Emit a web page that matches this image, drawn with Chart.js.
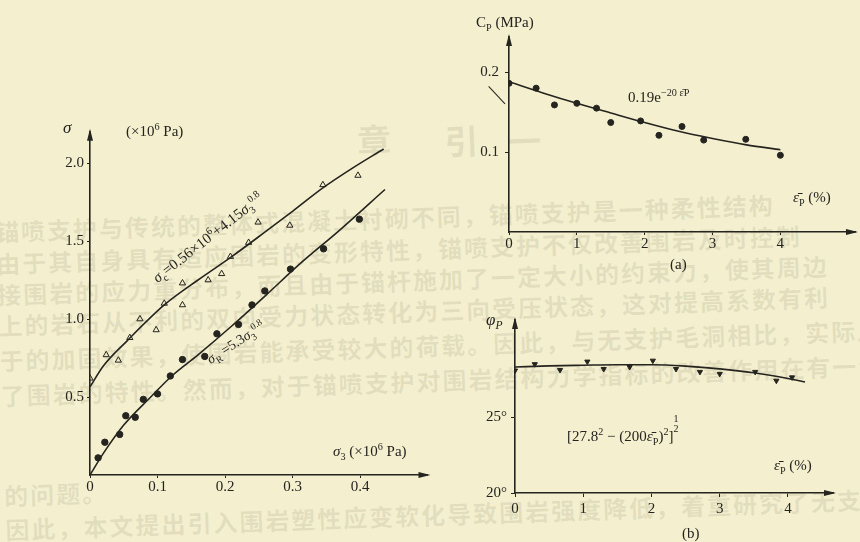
<!DOCTYPE html>
<html>
<head>
<meta charset="utf-8">
<script src="https://cdn.jsdelivr.net/npm/chart.js@4.4.0/dist/chart.umd.min.js"></script>
<style>
body { margin: 0; background: #f3efcf; }
#page { position: relative; width: 860px; height: 542px; overflow: hidden; background: #f3efcf; font-family: 'Liberation Serif', serif; color: #25241f; }
canvas { position: absolute; }
.lbl { position: absolute; font-size: 15px; white-space: nowrap; line-height: 1; }
.lbl sup, .lbl sub { font-size: 68%; line-height: 0; }
.bg { position: absolute; left: 0; top: 0; width: 860px; height: 542px; transform: rotate(-2deg); transform-origin: 215px 370px; color: rgba(100, 96, 70, 0.12); font-family: 'Noto Sans CJK SC'; font-size: 24px; font-weight: bold; }
.bg div { position: absolute; left: 0; white-space: nowrap; letter-spacing: 2px; line-height: 1; }
.frac { display: inline-block; vertical-align: 9px; font-size: 10px; text-align: center; line-height: 10px; }
</style>
</head>
<body>
<div id="page">
  <div class="bg">
    <div style="top:212px">锚喷支护与传统的整体式混凝土衬砌不同，锚喷支护是一种柔性结构</div>
    <div style="top:244px">由于其自身具有适应围岩的变形特性，锚喷支护不仅改善围岩及时控制</div>
    <div style="top:275px">接围岩的应力重分布，而且由于锚杆施加了一定大小的约束力，使其周边</div>
    <div style="top:306px">上的岩石从不利的双向受力状态转化为三向受压状态，这对提高系数有利</div>
    <div style="top:341px">于的加固效果，使围岩能承受较大的荷载。因此，与无支护毛洞相比，实际上就</div>
    <div style="top:376px">了围岩的特性。然而，对于锚喷支护对围岩结构力学指标的改善作用在有一个</div>
    <div style="top:476px">的问题。</div>
    <div style="top:510px">因此，本文提出引入围岩塑性应变软化导致围岩强度降低，着重研究了无支护锚喷</div>
    <div style="top:128px;left:365px;font-size:34px">章</div>
    <div style="top:132px;left:452px;font-size:34px">引</div>
    <div style="top:134px;left:515px;font-size:34px">一</div>
  </div>

  <canvas id="c1" width="400" height="390" style="left:40px;top:110px"></canvas>
  <canvas id="c2" width="420" height="262" style="left:440px;top:0px"></canvas>
  <canvas id="c3" width="420" height="236" style="left:440px;top:290px"></canvas>

  <div class="lbl" style="left:63px;top:119px;font-size:17px;font-style:italic">σ</div>
  <div class="lbl" style="left:126px;top:124px">(×10<sup>6</sup> Pa)</div>
  <div class="lbl" style="left:333px;top:444px"><i>σ</i><sub>3</sub> (×10<sup>6</sup> Pa)</div>
  <div class="lbl" style="left:208px;top:238px;transform:translate(-50%,-50%) rotate(-38deg)"><i>σ</i><sub>c</sub>=0.56×10<sup>6</sup>+4.15<i>σ</i><sub>3</sub><sup>0.8</sup></div>
  <div class="lbl" style="left:236px;top:343px;font-size:14px;transform:translate(-50%,-50%) rotate(-33deg)"><i>σ</i><sub>R</sub> =5.3<i>σ</i><sub>3</sub><sup>0.8</sup></div>

  <div class="lbl" style="left:476px;top:15px">C<sub>P</sub> (MPa)</div>
  <div class="lbl" style="left:628px;top:90px">0.19e<sup>−20 ε̄P</sup></div>
  <div class="lbl" style="left:793px;top:190px"><i>ε̄</i><sub>P</sub> (%)</div>
  <div class="lbl" style="left:670px;top:257px">(a)</div>
  <div style="position:absolute;left:489px;top:86px;width:24px;border-top:1px solid #25241f;transform-origin:0 0;transform:rotate(47deg)"></div>

  <div class="lbl" style="left:486px;top:311px;font-size:17px;font-style:italic">φ<sub>P</sub></div>
  <div class="lbl" style="left:567px;top:414px">[27.8<sup>2</sup> − (200<i>ε̄</i><sub>P</sub>)<sup>2</sup>]<span class="frac">1<br>2</span></div>
  <div class="lbl" style="left:774px;top:458px"><i>ε̄</i><sub>P</sub> (%)</div>
  <div class="lbl" style="left:682px;top:526px">(b)</div>
</div>

<script>
// left figure: sigma vs sigma3 (x10^6 Pa)
const sigma3Tri = [0, 0.024, 0.042, 0.059, 0.074, 0.098, 0.110, 0.137, 0.137, 0.175, 0.195, 0.208, 0.235, 0.249, 0.296, 0.345, 0.397];
const sigmaTri  = [0.62, 0.77, 0.735, 0.88, 1.00, 0.93, 1.10, 1.23, 1.09, 1.25, 1.29, 1.40, 1.49, 1.62, 1.60, 1.86, 1.92];
const sigma3Dot = [0.012, 0.022, 0.044, 0.053, 0.067, 0.079, 0.100, 0.119, 0.137, 0.170, 0.188, 0.220, 0.240, 0.259, 0.297, 0.346, 0.399];
const sigmaDot  = [0.11, 0.21, 0.26, 0.38, 0.37, 0.485, 0.52, 0.635, 0.74, 0.76, 0.905, 0.965, 1.09, 1.18, 1.32, 1.45, 1.64];
const fitCx = [0, 0.02, 0.055, 0.11, 0.16, 0.21, 0.26, 0.30, 0.345, 0.39, 0.435];
const fitCy = [0.565, 0.70, 0.86, 1.09, 1.25, 1.40, 1.56, 1.69, 1.84, 1.97, 2.09];
const fitRx = [0, 0.02, 0.05, 0.09, 0.12, 0.16, 0.21, 0.26, 0.31, 0.37, 0.437];
const fitRy = [0, 0.14, 0.32, 0.50, 0.63, 0.77, 0.955, 1.15, 1.35, 1.57, 1.83];

// (a): Cp (MPa) vs plastic strain (%)
const epsA = [0, 0.40, 0.67, 1.00, 1.29, 1.50, 1.94, 2.21, 2.55, 2.87, 3.49, 4.00];
const cpA  = [0.186, 0.180, 0.159, 0.161, 0.155, 0.137, 0.139, 0.121, 0.132, 0.115, 0.116, 0.096];
const fitAx = [0, 0.5, 1, 1.5, 2, 2.5, 3, 3.5, 4];
const fitAy = [0.188, 0.174, 0.161, 0.149, 0.137, 0.126, 0.117, 0.109, 0.103];

// (b): phi_p (deg) vs plastic strain (%)
const epsB = [0, 0.29, 0.66, 1.06, 1.30, 1.68, 2.02, 2.36, 2.71, 3.00, 3.52, 3.83, 4.06];
const phiB = [28.07, 28.49, 28.11, 28.66, 28.17, 28.30, 28.72, 28.17, 27.98, 27.85, 27.98, 27.40, 27.62];
const fitBx = [0, 0.5, 1, 1.5, 2, 2.5, 3, 3.5, 4, 4.25];
const fitBy = [28.30, 28.38, 28.42, 28.45, 28.45, 28.36, 28.18, 27.92, 27.55, 27.32];

const ink = '#25241f';
Chart.defaults.font.family = "'Liberation Serif', serif";
Chart.defaults.font.size = 15;
Chart.defaults.color = ink;

const pts = (xs, ys) => xs.map((x, i) => ({ x: x, y: ys[i] }));

// arrowheads at the ends of both axes
const arrows = {
    id: 'arrows',
    afterDraw(chart) {
        const ctx = chart.ctx, a = chart.chartArea;
        ctx.save();
        ctx.fillStyle = ink;
        ctx.beginPath();
        ctx.moveTo(a.right + 3, a.bottom);
        ctx.lineTo(a.right - 9, a.bottom - 3);
        ctx.lineTo(a.right - 9, a.bottom + 3);
        ctx.fill();
        ctx.beginPath();
        ctx.moveTo(a.left, a.top - 3);
        ctx.lineTo(a.left - 3, a.top + 9);
        ctx.lineTo(a.left + 3, a.top + 9);
        ctx.fill();
        ctx.restore();
    }
};

function axis(o) {
    return {
        type: 'linear',
        min: o.min,
        max: o.max,
        ticks: { stepSize: o.step, includeBounds: false, padding: o.pad, callback: o.fmt, color: ink, font: { size: 15 } },
        grid: { drawOnChartArea: false, drawTicks: true, tickLength: o.tl, color: ink, lineWidth: 1 },
        border: { display: true, color: ink, width: 1.6 },
        afterBuildTicks: function (s) { s.ticks = s.ticks.filter(t => o.keep(t.value)); },
        afterFit: function (s) { if (o.w) s.width = o.w; if (o.h) s.height = o.h; }
    };
}

function fitLine(xs, ys) {
    return { type: 'line', data: pts(xs, ys), borderColor: ink, borderWidth: 1.6, pointRadius: 0,
             cubicInterpolationMode: 'monotone', fill: false };
}

function marks(xs, ys, style) {
    return Object.assign({ type: 'scatter', data: pts(xs, ys), showLine: false, borderColor: ink,
                           backgroundColor: ink, borderWidth: 1 }, style);
}

function makeChart(id, datasets, pad, xs, ys) {
    return new Chart(document.getElementById(id), {
        data: { datasets: datasets },
        options: {
            responsive: false,
            animation: false,
            layout: { padding: pad },
            plugins: { legend: { display: false }, tooltip: { enabled: false } },
            scales: { x: xs, y: ys }
        },
        plugins: [arrows]
    });
}

const near = (v, step) => Math.abs(v / step - Math.round(v / step)) < 1e-6;

makeChart('c1', [
    fitLine(fitCx, fitCy),
    fitLine(fitRx, fitRy),
    marks(sigma3Tri, sigmaTri, { pointStyle: 'triangle', pointRadius: 3.6, backgroundColor: 'rgba(0,0,0,0)' }),
    marks(sigma3Dot, sigmaDot, { pointStyle: 'circle', pointRadius: 3.2 })
], { top: 21.8, right: 12.5, left: 0, bottom: 0 },
    axis({ min: 0, max: 0.5, step: 0.1, pad: 0, tl: 3, h: 25,
           keep: v => v <= 0.4001, fmt: v => (v === 0 ? '0' : v.toFixed(1)) }),
    axis({ min: 0, max: 2.2, step: 0.5, pad: 3, tl: 3, w: 50,
           keep: v => v > 0.1 && near(v, 0.5), fmt: v => v.toFixed(1) }));

makeChart('c2', [
    fitLine(fitAx, fitAy),
    marks(epsA, cpA, { pointStyle: 'circle', pointRadius: 3 })
], { top: 37, right: 3, left: 0, bottom: 0 },
    axis({ min: 0, max: 5.1, step: 1, pad: 0, tl: 3, h: 30,
           keep: v => v <= 4.001, fmt: v => String(v) }),
    axis({ min: 0, max: 0.244, step: 0.1, pad: 6, tl: 4, w: 69,
           keep: v => v > 0.05 && v < 0.21, fmt: v => v.toFixed(1) }));

makeChart('c3', [
    fitLine(fitBx, fitBy),
    marks(epsB, phiB, { pointStyle: 'triangle', pointRotation: 180, pointRadius: 3 })
], { top: 30, right: 27, left: 0, bottom: 0 },
    axis({ min: 0, max: 4.66, step: 1, pad: 3, tl: 4, h: 33,
           keep: v => v <= 4.001, fmt: v => String(v) }),
    axis({ min: 20, max: 31.4, step: 5, pad: 4, tl: 4, w: 75,
           keep: v => v === 20 || v === 25, fmt: v => v + '°' }));
</script>
</body>
</html>
